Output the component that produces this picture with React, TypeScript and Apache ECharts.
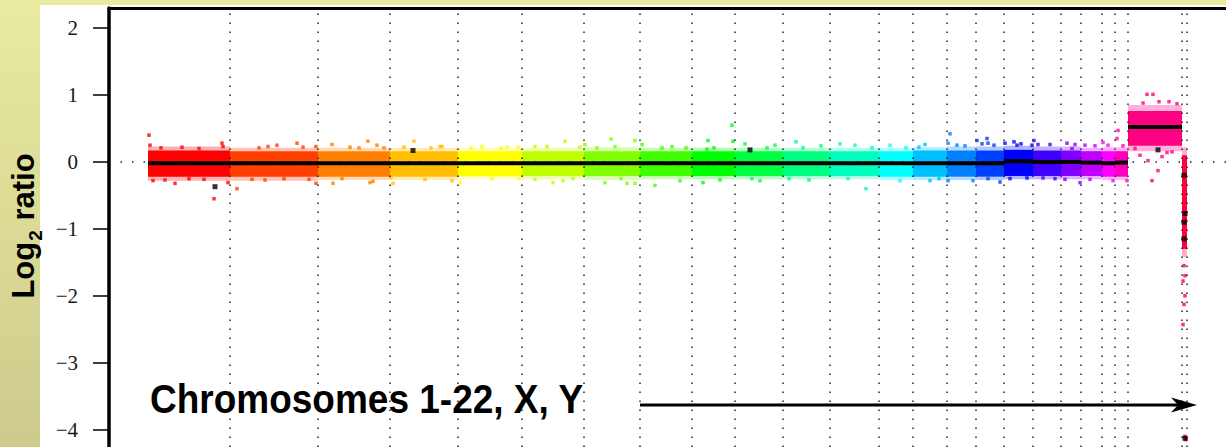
import React, { useEffect, useRef } from "react";
import * as echarts from "echarts";

// Chromosome layout (genomic index units)
const chromNames = ["1","2","3","4","5","6","7","8","9","10","11","12","13","14","15","16","17","18","19","20","21","22","X","Y"];
const dataStart = 39;
const chromEnds = [121, 209, 281, 349, 413, 475, 531, 583, 626, 674, 721, 770, 804, 838, 867, 895, 924, 952, 972, 993, 1006, 1019, 1073, 1078];
const chromColors = ["#FF0000","#FF4000","#FF8000","#FFBF00","#FFFF00","#BFFF00","#80FF00","#40FF00","#00FF00","#00FF40","#00FF80","#00FFBF","#00FFFF","#00BFFF","#0080FF","#0040FF","#0000FF","#4000FF","#8000FF","#BF00FF","#FF00FF","#FF00BF","#FF0080","#FF0040"];

// Dense probe cloud per chromosome (log2 ratio)
const coreLow  = [-0.22,-0.22,-0.22,-0.22,-0.21,-0.21,-0.21,-0.21,-0.21,-0.21,-0.21,-0.21,-0.22,-0.22,-0.22,-0.22,-0.21,-0.21,-0.21,-0.21,-0.22,-0.22, 0.24,-1.30];
const coreHigh = [ 0.17, 0.16, 0.16, 0.16, 0.16, 0.16, 0.16, 0.16, 0.16, 0.16, 0.16, 0.16, 0.16, 0.17, 0.17, 0.17, 0.18, 0.17, 0.17, 0.16, 0.16, 0.16, 0.76, 0.10];
// Sparse edge of the cloud
const edgeLow  = [-0.28,-0.28,-0.27,-0.27,-0.26,-0.26,-0.27,-0.26,-0.26,-0.26,-0.26,-0.26,-0.27,-0.27,-0.27,-0.27,-0.26,-0.26,-0.26,-0.26,-0.27,-0.27, 0.16,-1.42];
const edgeHigh = [ 0.23, 0.21, 0.21, 0.21, 0.21, 0.21, 0.22, 0.21, 0.21, 0.21, 0.21, 0.21, 0.21, 0.22, 0.23, 0.23, 0.24, 0.23, 0.23, 0.21, 0.22, 0.22, 0.85, 0.22];

// Segment means
const segmentMeans = [-0.02,-0.02,-0.02,-0.02,-0.02,-0.02,-0.02,-0.02,-0.02,-0.02,-0.02,-0.02,-0.02,-0.02,-0.02,-0.02,0.01,0.0,0.0,-0.01,-0.02,-0.01,0.52,null];

// Individual outlying probes [position, log2 ratio]
const outliers: [number, number][] = [
  [40,0.40],[41,0.25],[52,0.21],[73,0.22],[90,0.2],[113,0.28],[114,0.23],[44,-0.28],[56,-0.27],[66,-0.32],[80,-0.25],[95,-0.26],[105,-0.55],[119,-0.31],
  [128,-0.40],[143,-0.26],[150,0.21],[156,-0.27],[159,0.23],[168,0.25],[175,-0.25],[188,0.28],[194,0.22],[200,-0.26],[207,0.23],[207,-0.32],
  [223,0.26],[224,-0.32],[233,-0.25],[241,0.22],[250,0.21],[259,0.31],[268,0.25],[261,-0.31],[264,-0.29],[275,0.21],
  [282,-0.23],[284,-0.32],[295,0.22],[305,0.31],[316,-0.26],[322,0.21],[331,0.23],[333,0.23],[343,-0.28],
  [351,-0.31],[362,0.21],[373,0.23],[383,-0.25],[392,0.2],[398,0.22],[409,0.22],[410,-0.25],
  [426,0.23],[426,-0.26],[438,0.23],[444,-0.31],[454,-0.28],[456,0.31],[464,-0.25],[471,0.22],
  [476,0.26],[488,0.21],[496,-0.31],[502,0.34],[506,0.23],[512,-0.25],[518,-0.32],[526,0.32],[526,-0.32],
  [533,0.26],[546,-0.35],[553,0.21],[563,0.23],[571,-0.28],[577,0.21],
  [594,-0.31],[598,0.19],[599,0.32],[605,0.21],[611,-0.27],[623,0.55],[624,0.31],
  [636,0.27],[643,-0.25],[651,-0.28],[658,0.21],[666,0.25],
  [680,-0.25],[687,0.30],[694,0.21],[700,-0.27],[712,0.24],
  [731,0.27],[739,-0.25],[746,0.25],[757,-0.40],[763,0.21],
  [781,0.25],[791,-0.28],[797,0.21],
  [810,0.22],[816,0.26],[821,-0.28],[830,-0.25],
  [839,0.28],[839,-0.28],[841,0.42],[848,0.25],[856,0.24],[864,-0.28],
  [868,0.32],[873,0.27],[878,0.35],[879,0.28],[879,-0.25],[885,0.25],[891,-0.30],
  [896,0.28],[901,-0.25],[905,0.3],[908,0.25],[912,0.27],[918,-0.24],[923,0.25],
  [925,0.32],[929,0.26],[934,-0.24],[941,0.26],[946,-0.25],
  [956,-0.26],[958,0.28],[963,0.20],[966,0.26],[971,-0.31],
  [976,0.25],[981,-0.26],[986,0.24],
  [994,0.29],[999,0.25],[1004,-0.28],
  [1008,0.35],[1009,0.47],[1014,0.24],[1018,-0.28],
  [1026,0.20],[1031,0.10],[1034,0.88],[1038,1.01],[1039,0.02],[1043,-0.28],[1044,1.01],[1049,-0.13],[1050,0.9],[1053,0.08],[1058,0.14],[1060,0.9],[1063,0.15],[1068,0.87],
  [1075,-1.55],[1076,-1.70],[1074,-1.78],[1076,-2.00],[1075,-2.13],[1074,-2.43],[1076,-4.10],[1077,-4.15]
];

// Small segments shown as black marks
const blackMarks: [number, number][] = [
  [106,-0.37],[304,0.17],[641,0.18],[1049,0.18],[1075,-0.20],[1076,-0.77],[1075,-0.90],[1075,-1.15],[1076,-4.13]
];

const yTicks = [-4, -3, -2, -1, 0, 1, 2];

function chromIndexOf(x: number): number {
  for (let i = 0; i < chromEnds.length; i++) if (x < chromEnds[i]) return i;
  return chromEnds.length - 1;
}

export default function App() {
  const ref = useRef<HTMLDivElement>(null);
  useEffect(() => {
    if (!ref.current) return;
    const chart = echarts.init(ref.current, null, { renderer: "svg" });

    const starts = chromEnds.map((e, i) => (i === 0 ? dataStart : chromEnds[i - 1]));
    const edgeData = chromNames.map((_, i) => [starts[i], chromEnds[i], edgeLow[i], edgeHigh[i], i]);
    const coreData = chromNames.map((_, i) => [starts[i], chromEnds[i], coreLow[i], coreHigh[i], i]);
    const segData = chromNames
      .map((_, i) => [starts[i], chromEnds[i], segmentMeans[i], i])
      .filter((d) => d[2] !== null);

    const bandRender = (opacity: number) => (params: any, api: any) => {
      const s = api.value(0), e = api.value(1), lo = api.value(2), hi = api.value(3);
      const idx = api.value(4);
      const p1 = api.coord([s, hi]);
      const p2 = api.coord([e, lo]);
      return {
        type: "rect",
        shape: { x: p1[0], y: p1[1], width: p2[0] - p1[0], height: p2[1] - p1[1] },
        style: { fill: chromColors[idx], opacity },
      };
    };

    const option: any = {
      animation: false,
      backgroundColor: "transparent",
      graphic: [
        {
          type: "rect", z: -10, silent: true,
          shape: { x: 0, y: 0, width: 1226, height: 447 },
          style: { fill: "#eaeb9e" },
        },
        {
          type: "rect", z: -9, silent: true,
          shape: { x: 0, y: 0, width: 40, height: 447 },
          style: {
            fill: new echarts.graphic.LinearGradient(0, 0, 0, 1, [
              { offset: 0, color: "#e9eba0" },
              { offset: 1, color: "#cdca8c" },
            ]),
          },
        },
        {
          type: "rect", z: -8, silent: true,
          shape: { x: 40, y: 5, width: 1186, height: 442 },
          style: { fill: "#ffffff" },
        },
        {
          type: "text", z: 100,
          x: 23, y: 226, rotation: Math.PI / 2,
          style: {
            text: "{a|Log}{s|2}{a| ratio}",
            align: "center", verticalAlign: "middle",
            rich: {
              a: { fontSize: 31, fontWeight: "bold", fontFamily: "Liberation Sans", fill: "#000", lineHeight: 31, verticalAlign: "top" },
              s: { fontSize: 19, fontWeight: "bold", fontFamily: "Liberation Sans", fill: "#000", lineHeight: 19, verticalAlign: "top", padding: [18, 1, 0, 1] },
            },
          },
        },
        {
          type: "text", z: 100,
          x: 150, y: 379, scaleY: 1.08,
          style: {
            text: "Chromosomes 1-22, X, Y",
            fontSize: 37, fontWeight: "bold", fontFamily: "Liberation Sans", fill: "#000",
          },
        },
        {
          type: "line", z: 100,
          shape: { x1: 640, y1: 405, x2: 1180, y2: 405 },
          style: { stroke: "#000", lineWidth: 3 },
        },
        {
          type: "polygon", z: 100,
          shape: { points: [[1171, 397.5], [1197, 405], [1171, 412.5], [1178, 405]] },
          style: { fill: "#000" },
        },
      ],
      grid: { left: 109, right: 0, top: 8, bottom: 0, containLabel: false },
      xAxis: {
        type: "value", min: 0, max: 1117, position: "top",
        axisLine: { show: true, onZero: false, lineStyle: { color: "#000", width: 3 } },
        axisTick: { show: false }, axisLabel: { show: false }, splitLine: { show: false },
      },
      yAxis: {
        type: "value", min: -4.26, max: 2.3,
        axisLine: { show: true, onZero: false, lineStyle: { color: "#000", width: 3.5 } },
        axisTick: { show: true, length: 16, customValues: yTicks, lineStyle: { color: "#000", width: 1.5 } },
        axisLabel: {
          show: true, margin: 31, customValues: yTicks,
          fontFamily: "Liberation Serif", fontSize: 21, color: "#1a1a1a",
          formatter: (v: number) => (v < 0 ? "\u2212" + Math.abs(v) : String(v)),
        },
        splitLine: { show: false },
      },
      series: [
        {
          type: "line", data: [], z: 1, silent: true,
          markLine: {
            silent: true, symbol: "none", label: { show: false },
            data: [
              ...chromEnds.map((x) => ({ xAxis: x, lineStyle: { type: [1.5, 7.5], color: "#222", width: 1.5 } })),
              { yAxis: 0, lineStyle: { type: [1.5, 10], color: "#222", width: 1.5 } },
            ],
          },
        },
        {
          type: "custom", z: 2, silent: true,
          renderItem: bandRender(0.3),
          encode: { x: [0, 1], y: [2, 3] },
          data: edgeData,
        },
        {
          type: "custom", z: 3, silent: true,
          renderItem: bandRender(1),
          encode: { x: [0, 1], y: [2, 3] },
          data: coreData,
        },
        {
          type: "scatter", z: 4, silent: true,
          symbol: "rect", symbolSize: 3.5,
          data: outliers.map(([x, y]) => ({ value: [x, y], itemStyle: { color: chromColors[chromIndexOf(x)] } })),
        },
        {
          type: "custom", z: 5, silent: true,
          encode: { x: [0, 1], y: 2 },
          renderItem: (params: any, api: any) => {
            const p1 = api.coord([api.value(0), api.value(2)]);
            const p2 = api.coord([api.value(1), api.value(2)]);
            return {
              type: "line",
              shape: { x1: p1[0], y1: p1[1], x2: p2[0], y2: p2[1] },
              style: { stroke: "#000", lineWidth: 4 },
            };
          },
          data: segData,
        },
        {
          type: "scatter", z: 6, silent: true,
          symbol: "rect", symbolSize: 5,
          itemStyle: { color: "#000" },
          data: blackMarks,
        },
      ],
    };

    chart.setOption(option);
    return () => chart.dispose();
  }, []);

  return (
    <div
      ref={ref}
      style={{ position: "absolute", left: 0, top: 0, width: 1226, height: 447 }}
    />
  );
}
